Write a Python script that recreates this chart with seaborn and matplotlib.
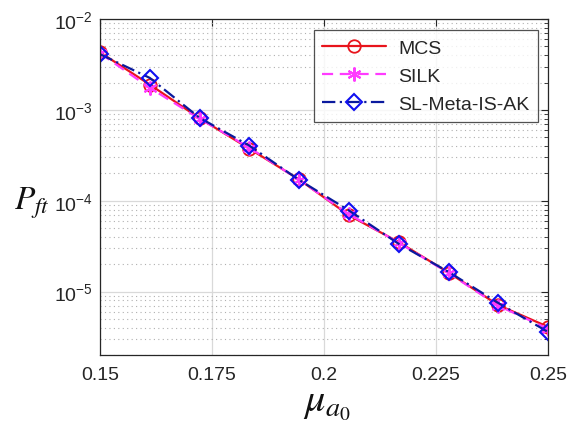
import numpy as np
import pandas as pd
import matplotlib
matplotlib.use("Agg")
import matplotlib.pyplot as plt
import seaborn as sns
from matplotlib.ticker import LogLocator, FixedLocator

mu = [0.15, 0.1611, 0.1722, 0.1833, 0.1944, 0.2056, 0.2167, 0.2278, 0.2389, 0.25]
mcs = [4.3e-3, 1.9e-3, 8.1e-4, 3.75e-4, 1.72e-4, 6.9e-5, 3.5e-5, 1.62e-5, 7.1e-6, 4.1e-6]
silk = [4.2e-3, 1.75e-3, 8.0e-4, 3.85e-4, 1.70e-4, 7.1e-5, 3.45e-5, 1.60e-5, 7.0e-6, 3.9e-6]
slmeta = [4.1e-3, 2.25e-3, 8.2e-4, 4.05e-4, 1.70e-4, 7.8e-5, 3.35e-5, 1.65e-5, 7.5e-6, 3.6e-6]
xticks = [0.15, 0.175, 0.2, 0.225, 0.25]
xticklabels = ["0.15", "0.175", "0.2", "0.225", "0.25"]

sns.set_style("white")
plt.rcParams['font.family'] = ['Liberation Sans', 'DejaVu Sans']
plt.rcParams['mathtext.fontset'] = 'custom'
plt.rcParams['mathtext.rm'] = 'Liberation Sans'

fig = plt.figure(figsize=(5.72, 4.27), dpi=100)
ax = fig.add_axes([0.175, 0.166, 0.783, 0.787])

df = pd.DataFrame({"mu": mu, "MCS": mcs, "SILK": silk, "SL": slmeta})

sns.lineplot(data=df, x="mu", y="MCS", ax=ax, color="#E8141C", lw=1.6,
             marker="o", markersize=9, markerfacecolor="none",
             markeredgecolor="#E8141C", markeredgewidth=1.3, label="MCS")
sns.lineplot(data=df, x="mu", y="SILK", ax=ax, color="#FF3BFF", lw=1.6,
             linestyle=(0, (5, 3)), marker=(6, 2, 0), markersize=10,
             markeredgecolor="#FF3BFF", markeredgewidth=1.5, label="SILK")
sns.lineplot(data=df, x="mu", y="SL", ax=ax, color="#0A1A9E", lw=1.6,
             linestyle=(0, (6, 2, 1, 2)), marker="D", markersize=8,
             markerfacecolor="none", markeredgecolor="#1010F0",
             markeredgewidth=1.5, label="SL-Meta-IS-AK")

ax.set_yscale("log")
ax.set_xlim(0.15, 0.25)
ax.set_ylim(2e-6, 1e-2)
ax.xaxis.set_major_locator(FixedLocator(xticks))
ax.set_xticklabels(xticklabels)
ax.yaxis.set_major_locator(LogLocator(base=10, numticks=10))
ax.yaxis.set_minor_locator(LogLocator(base=10, subs=np.arange(2, 10), numticks=20))

ax.grid(True, which="major", axis="both", color="#D9D9D9", lw=0.9, ls="-")
ax.grid(True, which="minor", axis="y", color="#B0B0B0", lw=0.8, ls=(0, (1, 3)))
ax.set_axisbelow(True)

ax.tick_params(axis="both", which="both", direction="in", top=True, right=True,
               colors="#262626", labelsize=14)
ax.tick_params(axis="x", pad=8)
ax.tick_params(axis="y", pad=5)
ax.tick_params(which="major", length=5, width=0.8)
ax.tick_params(which="minor", length=3, width=0.6)
for s in ax.spines.values():
    s.set_color("#262626")
    s.set_linewidth(0.9)

ax.set_xlabel("")
ax.set_ylabel("")
fig.text(0.572, 0.012, r"$\mu_{a_0}$", fontsize=29, ha="center", va="bottom",
         math_fontfamily="stix", color="#111111")
fig.text(0.025, 0.525, r"$P_{ft}$", fontsize=24, ha="left", va="center",
         math_fontfamily="stix", color="#111111")

leg = ax.legend(loc="upper right", fontsize=14, frameon=True, fancybox=False,
                edgecolor="#262626", handlelength=3.3, borderpad=0.45,
                labelspacing=0.55, handletextpad=0.6, borderaxespad=0,
                bbox_to_anchor=(0.978, 0.967))
leg.get_frame().set_linewidth(0.9)

fig.savefig("out.png", dpi=100)
